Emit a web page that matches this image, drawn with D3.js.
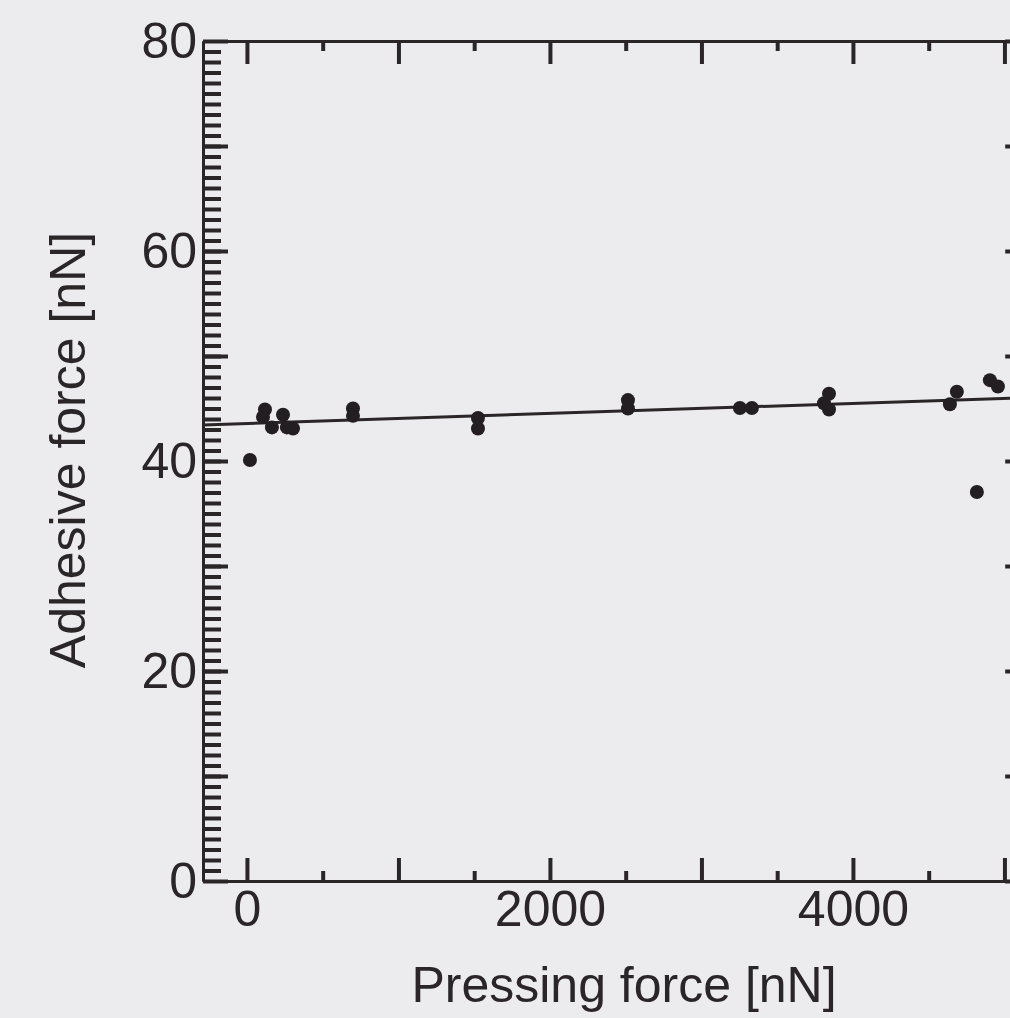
<!DOCTYPE html>
<html>
<head>
<meta charset="utf-8">
<script src="https://cdn.jsdelivr.net/npm/d3@7"></script>
<style>
  html, body { margin: 0; padding: 0; background: #ecebed; overflow: hidden; }
  svg { display: block; font-family: "Liberation Sans", Arial, sans-serif; }
</style>
</head>
<body>
<div id="chart"></div>
<script>
// measured points (pressing force nN, adhesive force nN)
const pressForce = [20, 106, 119, 165, 238, 264, 304, 700, 700, 1525, 1525,
  2515, 2515, 3254, 3333, 3809, 3842, 3842, 4640, 4686, 4818, 4904, 4957];
const adhesiveForce = [40.1, 44.2, 44.9, 43.2, 44.4, 43.2, 43.1, 45.0, 44.3, 44.1, 43.1,
  45.8, 45.0, 45.05, 45.05, 45.5, 46.4, 44.9, 45.4, 46.6, 37.05, 47.7, 47.1];

// linear fit
const fitIntercept = 43.57;
const fitSlope = 0.00048;

const xLabelTicks = [0, 2000, 4000];
const yLabelTicks = [0, 20, 40, 60, 80];

const xTitle = "Pressing force [nN]";
const yTitle = "Adhesive force [nN]";

const width = 1010, height = 1018;
const ink = "#2a2628";
const fontSize = 50;

const svg = d3.select("#chart").append("svg")
  .attr("width", width)
  .attr("height", height);

svg.append("rect").attr("width", width).attr("height", height).attr("fill", "#ecebed");

const xMin = -290, xMax = 5170;
const x = d3.scaleLinear().domain([xMin, xMax]).range([203, 203 + (xMax - xMin) * 0.1515]);
const y = d3.scaleLinear().domain([0, 80]).range([881, 41]);

const xMajor = d3.range(0, xMax, 1000);
const xMinor = d3.range(500, xMax, 1000);
const yMinor = d3.range(1, 80, 1);
const yMajor = d3.range(0, 81, 10);

function styleAxis(g) {
  g.select(".domain").attr("stroke", ink).attr("stroke-width", 3);
  g.selectAll(".tick line").attr("stroke", ink).attr("stroke-width", 4);
  g.selectAll(".tick text")
    .attr("fill", ink)
    .style("font-size", fontSize + "px")
    .style("font-family", '"Liberation Sans", Arial, sans-serif');
}

// left axis
svg.append("g").attr("transform", `translate(${x(xMin)},0)`)
  .call(d3.axisLeft(y).tickValues(yMinor).tickSize(-18).tickSizeOuter(0).tickFormat(""))
  .call(styleAxis);
svg.append("g").attr("transform", `translate(${x(xMin)},0)`)
  .call(d3.axisLeft(y).tickValues(yMajor).tickSize(-25).tickSizeOuter(0).tickPadding(6)
    .tickFormat(d => yLabelTicks.includes(d) ? d : ""))
  .call(styleAxis);

// right axis
svg.append("g").attr("transform", `translate(${x(xMax)},0)`)
  .call(d3.axisRight(y).tickValues(yMinor).tickSize(-18).tickSizeOuter(0).tickFormat(""))
  .call(styleAxis);
svg.append("g").attr("transform", `translate(${x(xMax)},0)`)
  .call(d3.axisRight(y).tickValues(yMajor).tickSize(-25).tickSizeOuter(0).tickFormat(""))
  .call(styleAxis);

// bottom axis
svg.append("g").attr("transform", `translate(0,${y(0)})`)
  .call(d3.axisBottom(x).tickValues(xMinor).tickSize(-10).tickSizeOuter(0).tickFormat(""))
  .call(styleAxis);
svg.append("g").attr("transform", `translate(0,${y(0)})`)
  .call(d3.axisBottom(x).tickValues(xMajor).tickSize(-23).tickSizeOuter(0).tickPadding(9)
    .tickFormat(d => xLabelTicks.includes(d) ? d : ""))
  .call(styleAxis);

// top axis
svg.append("g").attr("transform", `translate(0,${y(80)})`)
  .call(d3.axisTop(x).tickValues(xMinor).tickSize(-10).tickSizeOuter(0).tickFormat(""))
  .call(styleAxis);
svg.append("g").attr("transform", `translate(0,${y(80)})`)
  .call(d3.axisTop(x).tickValues(xMajor).tickSize(-23).tickSizeOuter(0).tickFormat(""))
  .call(styleAxis);

// fit line
const fitLine = d3.line().x(d => x(d)).y(d => y(fitIntercept + fitSlope * d));
svg.append("path")
  .attr("d", fitLine([xMin, xMax]))
  .attr("fill", "none")
  .attr("stroke", ink)
  .attr("stroke-width", 3);

// points
svg.append("g").selectAll("circle")
  .data(pressForce.map((p, i) => ({ p, a: adhesiveForce[i] })))
  .join("circle")
  .attr("cx", d => x(d.p))
  .attr("cy", d => y(d.a))
  .attr("r", 7)
  .attr("fill", "#231e21");

// titles
svg.append("text")
  .attr("x", 624)
  .attr("y", 1002)
  .attr("text-anchor", "middle")
  .attr("fill", ink)
  .style("font-size", "50px")
  .text(xTitle);

svg.append("text")
  .attr("transform", "translate(85,450) rotate(-90)")
  .attr("text-anchor", "middle")
  .attr("fill", ink)
  .style("font-size", "50px")
  .text(yTitle);
</script>
</body>
</html>
